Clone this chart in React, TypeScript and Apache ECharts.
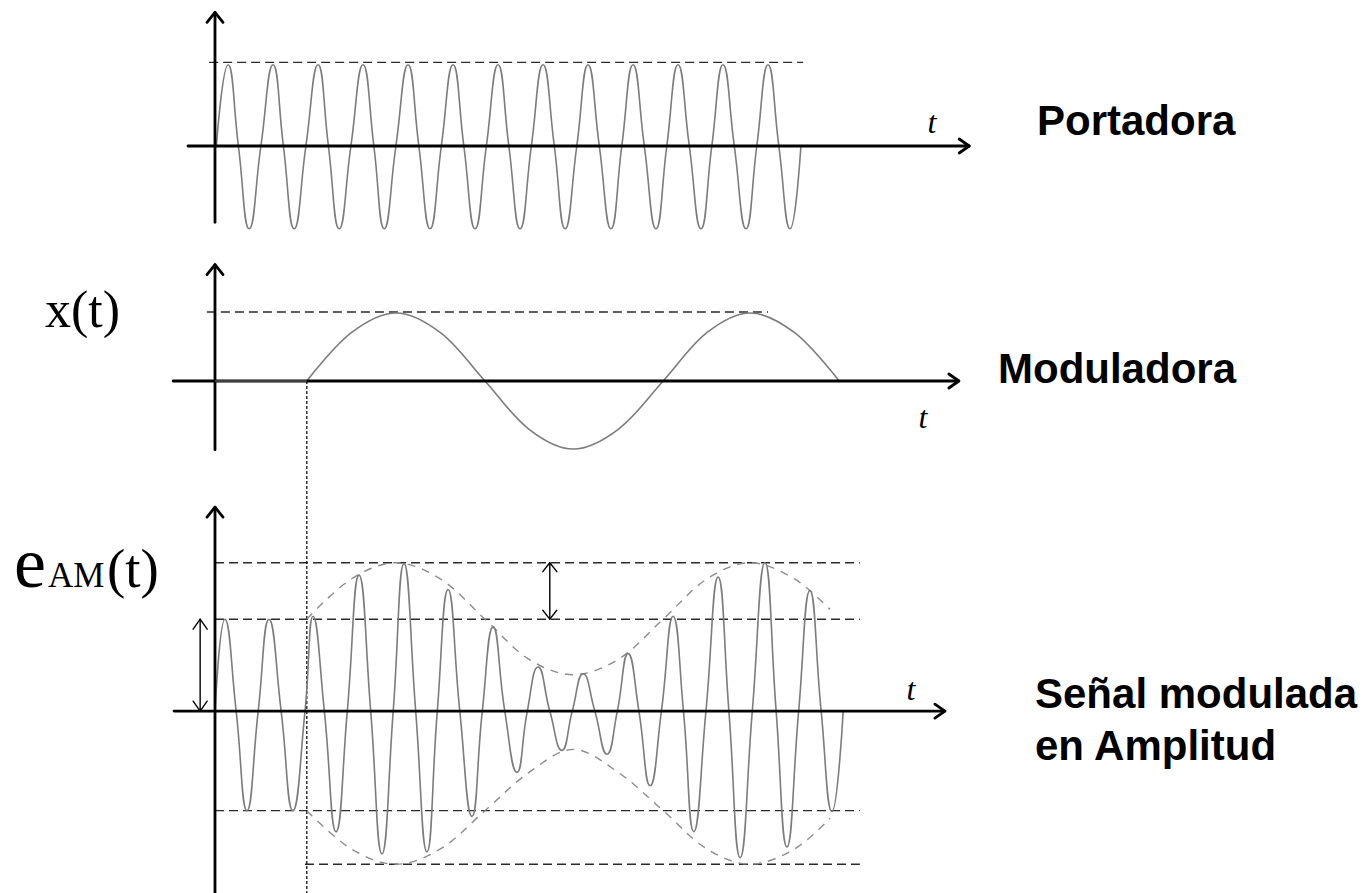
import { useEffect, useRef } from "react";
import * as echarts from "echarts";

// ---- time axis (units: carrier periods, t = 0 at the vertical axis) ----
const X_MIN = -1;
const X_MAX = 17;

// ---- Panel 1: Portadora (carrier), [t, v] ----
const carrierPoints: number[][] = [
  [0.03, 0], [0.29, 0.99], [0.52, 0], [0.76, -1.01],
  [1.02, 0], [1.29, 0.99], [1.52, 0], [1.76, -1.01],
  [2.02, 0], [2.29, 0.99], [2.52, 0], [2.76, -1.01],
  [3.02, 0], [3.29, 0.99], [3.53, 0], [3.76, -1.01],
  [4.02, 0], [4.29, 0.99], [4.53, 0], [4.78, -1.01],
  [5.03, 0], [5.29, 0.99], [5.53, 0], [5.78, -1.01],
  [6.03, 0], [6.29, 0.99], [6.53, 0], [6.78, -1.01],
  [7.03, 0], [7.29, 0.99], [7.54, 0], [7.78, -1.01],
  [8.04, 0], [8.29, 0.99], [8.54, 0], [8.8, -1.01],
  [9.04, 0], [9.29, 0.99], [9.54, 0], [9.8, -1.01],
  [10.04, 0], [10.29, 0.99], [10.54, 0], [10.8, -1.01],
  [11.04, 0], [11.29, 0.99], [11.54, 0], [11.8, -1.01],
  [12.04, 0], [12.29, 0.99], [12.53, 0], [12.78, -1.01],
  [13.02, 0],
];
const carrierRefLevel = 1.02;
const carrierRefSpan = [-0.13, 13.07];

// ---- Panel 2: Moduladora (modulating signal) ----
const modulatorFlat: number[][] = [[0, 0], [2.04, 0]];
const modulatorPoints: number[][] = [
  [2.04, 0], [3.03, 0.71], [4.02, 1.0], [5.01, 0.71], [6.0, 0],
  [6.98, -0.71], [7.96, -1.0], [8.96, -0.71], [9.96, 0],
  [10.93, 0.71], [11.89, 1.0], [12.88, 0.71], [13.87, 0],
];
const modulatorRefLevel = 1.015;
const modulatorRefSpan = [-0.18, 12.29];

// ---- Panel 3: Señal modulada en Amplitud ----
const amPoints: number[][] = [
  [0, 0], [0.22, 0.96], [0.47, 0], [0.71, -1.04], [0.96, 0], [1.2, 0.96], [1.47, 0], [1.73, -1.04],
  [2.0, 0], [2.18, 0.99], [2.43, 0], [2.69, -1.26], [2.94, 0], [3.2, 1.42], [3.46, 0], [3.71, -1.49],
  [3.96, 0], [4.2, 1.54], [4.46, 0], [4.71, -1.47], [4.94, 0], [5.18, 1.27], [5.44, 0], [5.71, -1.1],
  [5.94, 0], [6.18, 0.88], [6.44, 0], [6.71, -0.64], [6.94, 0], [7.18, 0.46], [7.44, 0], [7.71, -0.41],
  [7.94, 0], [8.18, 0.39], [8.44, 0], [8.71, -0.45], [8.94, 0], [9.18, 0.6], [9.42, 0], [9.67, -0.78],
  [9.92, 0], [10.18, 0.99], [10.41, 0], [10.64, -1.26], [10.91, 0], [11.18, 1.4], [11.42, 0], [11.67, -1.53],
  [11.94, 0], [12.22, 1.55], [12.47, 0], [12.71, -1.42], [12.97, 0], [13.22, 1.26], [13.47, 0], [13.71, -1.05],
  [13.96, 0],
];
const envelopeUpper: number[][] = [
  [2.04, 0.96], [3.03, 1.38], [4.02, 1.55], [5.01, 1.38], [6.0, 0.96], [6.98, 0.54], [7.96, 0.38],
  [8.96, 0.54], [9.96, 0.96], [10.93, 1.38], [11.89, 1.55], [12.88, 1.38], [13.67, 1.06],
];
const envelopeLower: number[][] = [
  [2.04, -1.04], [3.03, -1.44], [4.02, -1.6], [5.01, -1.44], [6.0, -1.04], [6.98, -0.64], [7.96, -0.4],
  [8.96, -0.64], [9.96, -1.04], [10.93, -1.44], [11.89, -1.6], [12.88, -1.44], [13.67, -1.12],
];
// horizontal reference levels [level, tStart, tEnd]
const amRefLines: number[][] = [
  [1.55, 0, 14.33],
  [0.96, 0, 14.33],
  [-1.04, 0, 14.33],
  [-1.6, 2.0, 14.33],
];
const modulationStart = 2.04;
const carrierAmplitudeMark = [-0.33, 0, 0.96]; // t, from, to
const modulationDepthMark = [7.44, 0.96, 1.55];

// ---- axis extents per panel (data units) ----
const axisExtents = [
  { x: [-0.6, 16.76], y: [-0.93, 1.63] },
  { x: [-0.93, 16.53], y: [-1.01, 1.71] },
  { x: [-0.91, 16.22], y: [-1.9, 2.13] },
];

// ---- layout (pixels) ----
const PX_X = 45;
const GRID_LEFT = 170;
const panels = [
  { zeroY: 146, unit: 82, min: -1.3, max: 1.7 },
  { zeroY: 381, unit: 68, min: -1.5, max: 1.9 },
  { zeroY: 712, unit: 96, min: -1.9, max: 3.5 },
];

const AXIS_COLOR = "#000";
const SIGNAL_COLOR = "#7c7c7c";
const REF_COLOR = "#2a2a2a";
const ENV_COLOR = "#8c8c8c";

function App() {
  const ref = useRef<HTMLDivElement>(null);

  useEffect(() => {
    if (!ref.current) return;
    const chart = echarts.init(ref.current, null, { renderer: "svg" });

    const line = (g: number, data: number[][], style: any, smooth: boolean | number = false, z = 2) => ({
      type: "line",
      xAxisIndex: g,
      yAxisIndex: g,
      data,
      symbol: "none",
      smooth,
      silent: true,
      clip: false,
      z,
      lineStyle: style,
    });

    const axisStyle = { color: AXIS_COLOR, width: 2.8, cap: "round", join: "round" };
    const thinArrow = { color: AXIS_COLOR, width: 1.4, cap: "round", join: "round" };

    const upHead = (g: number, t: number, v: number, w: number, h: number) => {
      const u = panels[g].unit;
      return [[t - w / PX_X, v - h / u], [t, v], [t + w / PX_X, v - h / u]];
    };
    const downHead = (g: number, t: number, v: number, w: number, h: number) => {
      const u = panels[g].unit;
      return [[t - w / PX_X, v + h / u], [t, v], [t + w / PX_X, v + h / u]];
    };
    const rightHead = (g: number, t: number, v: number, l: number, h: number) => {
      const u = panels[g].unit;
      return [[t - l / PX_X, v + h / u], [t, v], [t - l / PX_X, v - h / u]];
    };

    const series: any[] = [];
    axisExtents.forEach((ext, g) => {
      series.push(line(g, [[0, ext.y[0]], [0, ext.y[1]]], axisStyle, false, 6));
      series.push(line(g, upHead(g, 0, ext.y[1], 8, 10), axisStyle, false, 6));
      series.push(line(g, [[ext.x[0], 0], [ext.x[1], 0]], axisStyle, false, 6));
      series.push(line(g, rightHead(g, ext.x[1], 0, 10, 7), axisStyle, false, 6));
    });

    const dashStyle = { color: REF_COLOR, width: 1.4, type: [9, 5] };
    // panel 1
    series.push(line(0, [[carrierRefSpan[0], carrierRefLevel], [carrierRefSpan[1], carrierRefLevel]], dashStyle));
    series.push(line(0, carrierPoints, { color: SIGNAL_COLOR, width: 1.6 }, 0.5, 4));
    // panel 2
    series.push(line(1, [[modulatorRefSpan[0], modulatorRefLevel], [modulatorRefSpan[1], modulatorRefLevel]], dashStyle));
    series.push(line(1, modulatorFlat, { color: "#555", width: 1.6 }, false, 7));
    series.push(line(1, modulatorPoints, { color: SIGNAL_COLOR, width: 1.6 }, 0.34, 4));
    // panel 3
    amRefLines.forEach((r) => series.push(line(2, [[r[1], r[0]], [r[2], r[0]]], dashStyle)));
    series.push(
      line(2, [[modulationStart, (panels[2].zeroY - panels[1].zeroY) / panels[2].unit], [modulationStart, panels[2].min]],
        { color: "#111", width: 1.3, type: [3, 2] }, false, 3)
    );
    series.push(line(2, envelopeUpper, { color: ENV_COLOR, width: 1.4, type: [8, 7] }, 0.34, 3));
    series.push(line(2, envelopeLower, { color: ENV_COLOR, width: 1.4, type: [8, 7] }, 0.34, 3));
    series.push(line(2, amPoints, { color: SIGNAL_COLOR, width: 1.6 }, 0.5, 4));
    // double arrows
    const [ta, a0, a1] = carrierAmplitudeMark;
    series.push(line(2, [[ta, a0], [ta, a1]], thinArrow, false, 5));
    series.push(line(2, upHead(2, ta, a1, 7, 10), thinArrow, false, 5));
    series.push(line(2, downHead(2, ta, a0, 7, 10), thinArrow, false, 5));
    const [tb, b0, b1] = modulationDepthMark;
    series.push(line(2, [[tb, b0], [tb, b1]], thinArrow, false, 5));
    series.push(line(2, upHead(2, tb, b1, 7, 9), thinArrow, false, 5));
    series.push(line(2, downHead(2, tb, b0, 7, 9), thinArrow, false, 5));

    const sans = "'Liberation Sans', Arial, sans-serif";
    const serif = "'Liberation Serif', 'Times New Roman', serif";
    const txt = (text: string, x: number, y: number, fontSize: number, family: string, extra: any = {}) => ({
      type: "text",
      x,
      y,
      silent: true,
      z: 10,
      style: { text, fontSize, fontFamily: family, fill: "#000", align: "left", verticalAlign: "middle", ...extra },
    });

    const option: any = {
      animation: false,
      backgroundColor: "#fff",
      grid: panels.map((p) => ({
        left: GRID_LEFT,
        width: (X_MAX - X_MIN) * PX_X,
        top: p.zeroY - p.max * p.unit,
        height: (p.max - p.min) * p.unit,
        containLabel: false,
      })),
      xAxis: panels.map((_, i) => ({ type: "value", gridIndex: i, min: X_MIN, max: X_MAX, show: false })),
      yAxis: panels.map((p, i) => ({ type: "value", gridIndex: i, min: p.min, max: p.max, show: false })),
      series,
      graphic: [
        txt("Portadora", 1037, 120.5, 42, sans, { fontWeight: "bold" }),
        txt("Moduladora", 998, 368.5, 42, sans, { fontWeight: "bold" }),
        txt("Señal modulada", 1035, 693.5, 42, sans, { fontWeight: "bold" }),
        txt("en Amplitud", 1035, 745.5, 42, sans, { fontWeight: "bold" }),
        txt("t", 932, 122, 32, serif, { fontStyle: "italic", align: "center" }),
        txt("t", 923, 417, 32, serif, { fontStyle: "italic", align: "center" }),
        txt("t", 911, 689, 32, serif, { fontStyle: "italic", align: "center" }),
        txt("x(t)", 45, 309.5, 52, serif),
        txt("e", 14, 562.7, 72, serif),
        txt("AM", 48, 575, 35, serif),
        txt("(t)", 107, 568, 55, serif),
      ],
    };

    chart.setOption(option);
    return () => chart.dispose();
  }, []);

  return (
    <div
      ref={ref}
      style={{ position: "fixed", left: 0, top: 0, width: 1370, height: 893, background: "#fff" }}
    />
  );
}

export default App;
